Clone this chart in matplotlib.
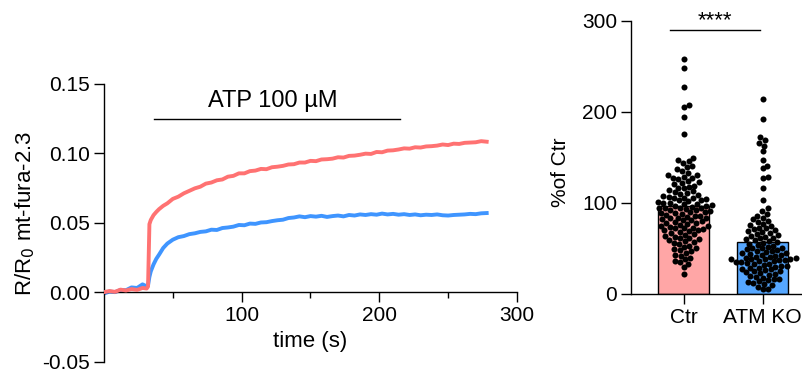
import matplotlib
matplotlib.use("Agg")
import matplotlib.pyplot as plt
import numpy as np

plt.rcParams['font.family'] = ['Liberation Sans', 'DejaVu Sans']

# ---- trace data ----
time_s = [0, 4, 8, 12, 16, 20, 24, 28, 31, 32, 33, 34, 36, 38, 40, 43, 46,
          50, 54, 58, 62, 66, 70, 74, 78, 82, 86, 90, 94, 98,
          102, 106, 110, 114, 118, 122, 126, 130, 134, 138, 142, 146, 150,
          154, 158, 162, 166, 170, 174, 178, 182, 186, 190, 194, 198,
          202, 206, 210, 214, 218, 222, 226, 230, 234, 238, 242, 246, 250,
          254, 258, 262, 266, 270, 274, 278]
ctr_trace = [0.0000, 0.0008, 0.0002, 0.0018, 0.0012, 0.0022, 0.0016, 0.0030, 0.0026, 0.0040, 0.0490, 0.0520, 0.0555, 0.0578, 0.0598, 0.0622, 0.0640,
             0.0672, 0.0688, 0.0712, 0.0730, 0.0748, 0.0760, 0.0782, 0.0790, 0.0806, 0.0812, 0.0832, 0.0838, 0.0856,
             0.0856, 0.0872, 0.0876, 0.0888, 0.0886, 0.0900, 0.0904, 0.0910, 0.0920, 0.0922, 0.0934, 0.0934, 0.0946,
             0.0944, 0.0956, 0.0958, 0.0962, 0.0972, 0.0970, 0.0982, 0.0984, 0.0990, 0.0998, 0.0996, 0.1010,
             0.1008, 0.1020, 0.1022, 0.1028, 0.1036, 0.1034, 0.1044, 0.1042, 0.1050, 0.1052, 0.1056, 0.1064, 0.1060,
             0.1070, 0.1068, 0.1076, 0.1078, 0.1080, 0.1088, 0.1084]
ko_trace = [-0.0010, 0.0004, 0.0000, 0.0016, 0.0014, 0.0034, 0.0030, 0.0056, 0.0042, 0.0050, 0.0110, 0.0150, 0.0200, 0.0240, 0.0270, 0.0318, 0.0350,
            0.0378, 0.0396, 0.0404, 0.0418, 0.0424, 0.0434, 0.0438, 0.0450, 0.0448, 0.0462, 0.0466, 0.0472, 0.0484,
            0.0482, 0.0494, 0.0492, 0.0502, 0.0504, 0.0512, 0.0518, 0.0522, 0.0534, 0.0538, 0.0546, 0.0540, 0.0548,
            0.0544, 0.0550, 0.0542, 0.0548, 0.0552, 0.0546, 0.0556, 0.0552, 0.0560, 0.0556, 0.0562, 0.0558,
            0.0566, 0.0560, 0.0564, 0.0558, 0.0562, 0.0556, 0.0560, 0.0554, 0.0558, 0.0556, 0.0560, 0.0554, 0.0552,
            0.0556, 0.0558, 0.0560, 0.0564, 0.0562, 0.0568, 0.0570]

# ---- bar + dots data ----
groups = ['Ctr', 'ATM KO']
bar_means = [97, 57]
ctr_pts = [258, 248, 228, 208, 206, 195, 176,
           149, 147, 146, 144, 141, 139, 137, 135, 133, 131, 131, 129, 128, 127, 126, 124, 123, 122,
           121, 119, 118, 117, 116, 114, 113, 112, 111, 110, 109, 108, 107, 106, 106, 105, 104, 103,
           103, 102, 101, 100, 100, 99, 99, 98, 97, 97, 96, 95, 95, 94, 94, 93, 92, 92, 91, 90, 90,
           89, 89, 88, 87, 86, 86, 85, 84, 84, 83, 82, 81, 81, 80, 79, 78, 78, 77, 76, 75, 75, 74,
           73, 72, 72, 71, 70, 70, 69, 68, 67, 66, 65, 64, 63, 62, 61, 60, 59, 58, 57, 56, 55, 53,
           52, 50, 49, 48, 47, 45, 43, 42, 40, 38, 36, 35, 33, 30, 22]
ko_pts = [214, 192, 172, 169, 166, 163, 157, 147, 141, 138, 129, 127, 116, 103, 94, 91, 88, 86,
          84, 82, 80, 79, 77, 76, 75, 73, 72, 71, 70, 69, 68, 67, 66, 65, 64, 63, 62, 61, 60, 59,
          58, 57, 56, 55, 54, 53, 52, 51, 50, 50, 49, 48, 47, 47, 46, 45, 45, 44, 43, 43, 42, 41,
          41, 40, 40, 39, 39, 38, 38, 37, 37, 36, 36, 35, 35, 34, 33, 33, 32, 31, 31, 30, 29, 29,
          28, 27, 26, 25, 25, 24, 23, 22, 21, 20, 19, 18, 17, 16, 15, 14, 13, 12, 11, 10, 8, 6, 5]

red = '#FF7272'
blue = '#3F95FF'
bar_colors = ['#FFA6A6', '#56A7FF']


def swarm(ax, vals, center, d):
    # simple beeswarm in pixel space
    pts = ax.transData.transform(np.column_stack([np.full(len(vals), center), vals]))
    cx = pts[0, 0]
    ys = pts[:, 1]
    xs = np.zeros(len(vals))
    placed = []
    for i in np.argsort(ys):
        y = ys[i]
        near = [(px, py) for px, py in placed if abs(py - y) < d]
        cands = [0.0]
        for px, py in near:
            dx = np.sqrt(d * d - (py - y) ** 2)
            cands += [px + dx, px - dx]
        cands.sort(key=abs)
        for c in cands:
            if all((c - px) ** 2 + (y - py) ** 2 >= d * d - 1e-6 for px, py in near):
                xs[i] = c
                placed.append((c, y))
                break
    back = ax.transData.inverted().transform(np.column_stack([cx + xs, ys]))
    return back[:, 0]


fig = plt.figure(figsize=(8.03, 3.72), dpi=100)

# left: traces
ax1 = fig.add_axes([0.1295, 0.0282, 0.5143, 0.746])
ax1.plot(time_s, ctr_trace, color=red, lw=2.8, zorder=3)
ax1.plot(time_s, ko_trace, color=blue, lw=2.8, zorder=2)
ax1.set_xlim(0, 300)
ax1.set_ylim(-0.05, 0.15)
ax1.spines['top'].set_visible(False)
ax1.spines['right'].set_visible(False)
ax1.spines['bottom'].set_position(('data', 0))
for s in ['left', 'bottom']:
    ax1.spines[s].set_linewidth(1.0)
ax1.set_xticks([100, 200, 300])
ax1.set_xticks([50, 150, 250], minor=True)
ax1.set_yticks([-0.05, 0, 0.05, 0.10, 0.15])
ax1.set_yticklabels(['-0.05', '0.00', '0.05', '0.10', '0.15'])
ax1.tick_params(which='major', length=7, width=1.0, labelsize=15, pad=3)
ax1.tick_params(which='minor', length=4, width=1.0)
ax1.set_xlabel('time (s)', fontsize=16, labelpad=4)
ax1.set_ylabel('R/R$_0$ mt-fura-2.3', fontsize=16)
ax1.yaxis.set_label_coords(-0.162, 0.534)
ax1.plot([36, 215], [0.125, 0.125], color='black', lw=1.0)
ax1.text(123, 0.130, 'ATP 100 µM', fontsize=17, ha='center', va='bottom')

# right: bars with dots
ax2 = fig.add_axes([0.7858, 0.2097, 0.2142, 0.7339])
ax2.set_xlim(-0.665, 1.512)
ax2.set_ylim(0, 300)
x = np.arange(len(groups))
ax2.bar(x, bar_means, width=0.65, color=bar_colors, edgecolor='black', linewidth=1.0, zorder=1)
for xi, vals in zip(x, [ctr_pts, ko_pts]):
    xs = swarm(ax2, vals, xi, 5.6)
    ax2.scatter(xs, vals, s=19, color='black', linewidths=0, zorder=3, clip_on=False)
ax2.spines['top'].set_visible(False)
ax2.spines['right'].set_visible(False)
for s in ['left', 'bottom']:
    ax2.spines[s].set_linewidth(1.0)
ax2.set_xticks(x)
ax2.set_xticklabels(groups)
ax2.set_yticks([0, 100, 200, 300])
ax2.tick_params(length=7, width=1.0, labelsize=15, pad=3)
ax2.set_ylabel('%of Ctr', fontsize=15)
ax2.yaxis.set_label_coords(-0.355, 0.447)
ax2.plot([-0.17, 0.97], [290, 290], color='black', lw=1.0, clip_on=False)
ax2.text(0.40, 289, '****', fontsize=16, ha='center', va='bottom')

fig.savefig('out.png', dpi=100)
